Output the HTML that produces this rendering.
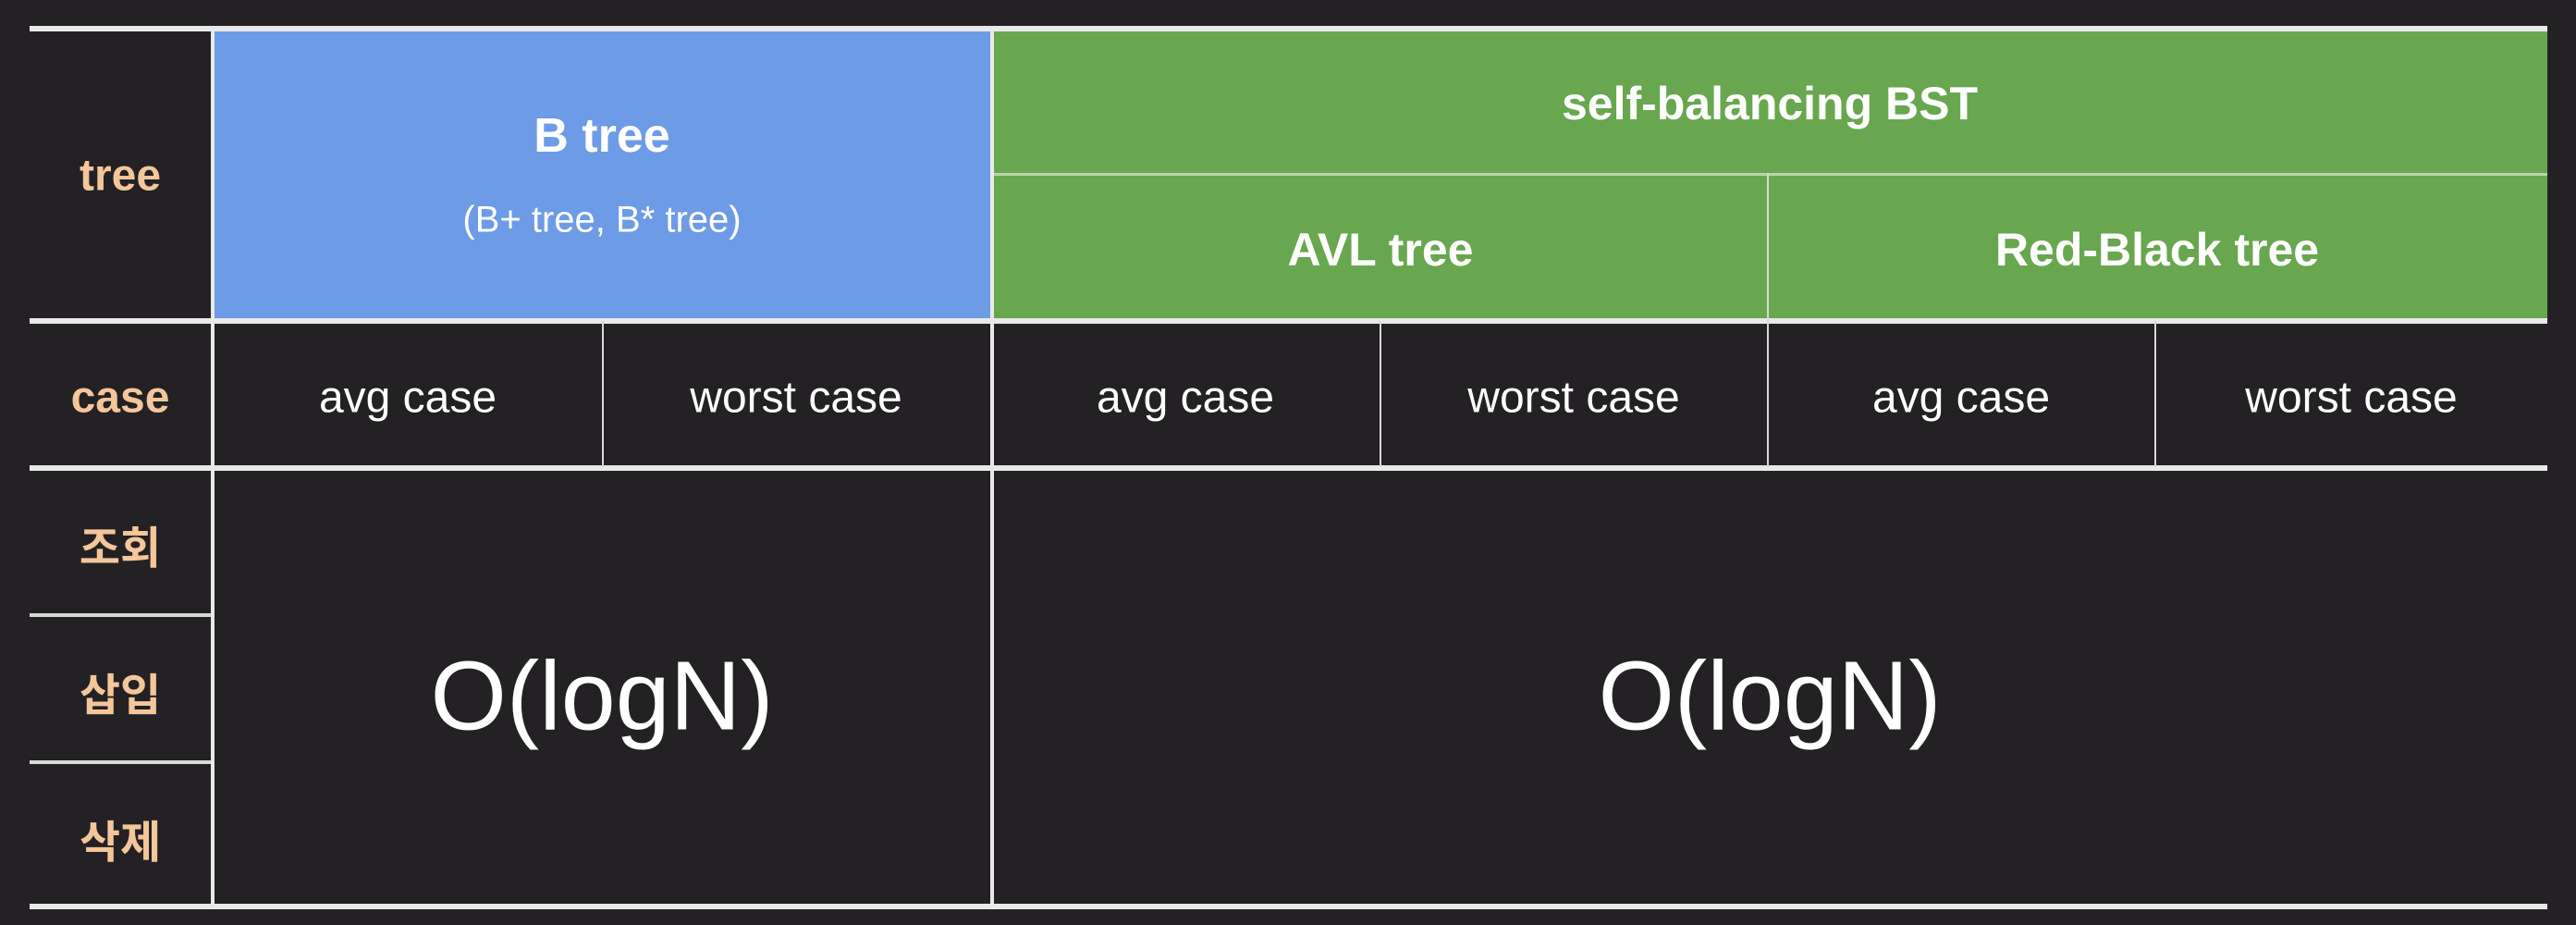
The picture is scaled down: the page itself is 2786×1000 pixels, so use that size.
<!DOCTYPE html>
<html><head><meta charset="utf-8"><style>
html,body{margin:0;padding:0;}
body{width:2786px;height:1000px;background:#232123;position:relative;overflow:hidden;font-family:"Liberation Sans","Noto Sans CJK KR",sans-serif;}
.a{position:absolute;}
.t{position:absolute;transform:translate(-50%,-50%);white-space:nowrap;color:#fff;}
.o{color:#f3c69b;font-size:48px;font-weight:bold;}
.b{font-weight:bold;}
.hl{background:#e9e9e9;height:6px;}
.tl{background:#d8d8d8;}
</style></head><body>
<div class="a" style="left:232px;top:33px;width:839px;height:312px;background:#6e9be6"></div>
<div class="a" style="left:1075px;top:33px;width:1680px;height:312px;background:#68a74f"></div>
<div class="a hl" style="left:32px;top:28px;width:2723px"></div>
<div class="a hl" style="left:32px;top:344px;width:2723px"></div>
<div class="a hl" style="left:32px;top:503px;width:2723px"></div>
<div class="a hl" style="left:32px;top:977px;width:2723px"></div>
<div class="a tl" style="left:32px;top:663px;width:198px;height:4px"></div>
<div class="a tl" style="left:32px;top:822px;width:198px;height:4px"></div>
<div class="a tl" style="left:1075px;top:187px;width:1680px;height:3px;background:#b8d4ab"></div>
<div class="a tl" style="left:228px;top:28px;width:4px;height:955px;background:#e9e9e9"></div>
<div class="a tl" style="left:1071px;top:28px;width:4px;height:955px;background:#e9e9e9"></div>
<div class="a tl" style="left:1911px;top:187px;width:2px;height:318px"></div>
<div class="a tl" style="left:651px;top:347px;width:2px;height:158px"></div>
<div class="a tl" style="left:1492px;top:347px;width:2px;height:158px"></div>
<div class="a tl" style="left:2330px;top:347px;width:2px;height:158px"></div>

<div class="t o" style="left:130px;top:190px">tree</div>
<div class="t o" style="left:130px;top:430px">case</div>
<div class="t o" style="left:130px;top:588px">조회</div>
<div class="t o" style="left:130px;top:747px">삽입</div>
<div class="t o" style="left:130px;top:906px">삭제</div>

<div class="t b" style="left:651px;top:147px;font-size:52px">B tree</div>
<div class="t" style="left:651px;top:238px;font-size:40px">(B+ tree, B* tree)</div>
<div class="t b" style="left:1914px;top:112px;font-size:50px">self-balancing BST</div>
<div class="t b" style="left:1493px;top:270px;font-size:50px">AVL tree</div>
<div class="t b" style="left:2333px;top:270px;font-size:50px">Red-Black tree</div>

<div class="t" style="left:441px;top:430px;font-size:48px">avg case</div>
<div class="t" style="left:861px;top:430px;font-size:48px">worst case</div>
<div class="t" style="left:1282px;top:430px;font-size:48px">avg case</div>
<div class="t" style="left:1702px;top:430px;font-size:48px">worst case</div>
<div class="t" style="left:2121px;top:430px;font-size:48px">avg case</div>
<div class="t" style="left:2543px;top:430px;font-size:48px">worst case</div>

<div class="t" style="left:651px;top:753px;font-size:106px">O(logN)</div>
<div class="t" style="left:1914px;top:753px;font-size:106px">O(logN)</div>
</body></html>
